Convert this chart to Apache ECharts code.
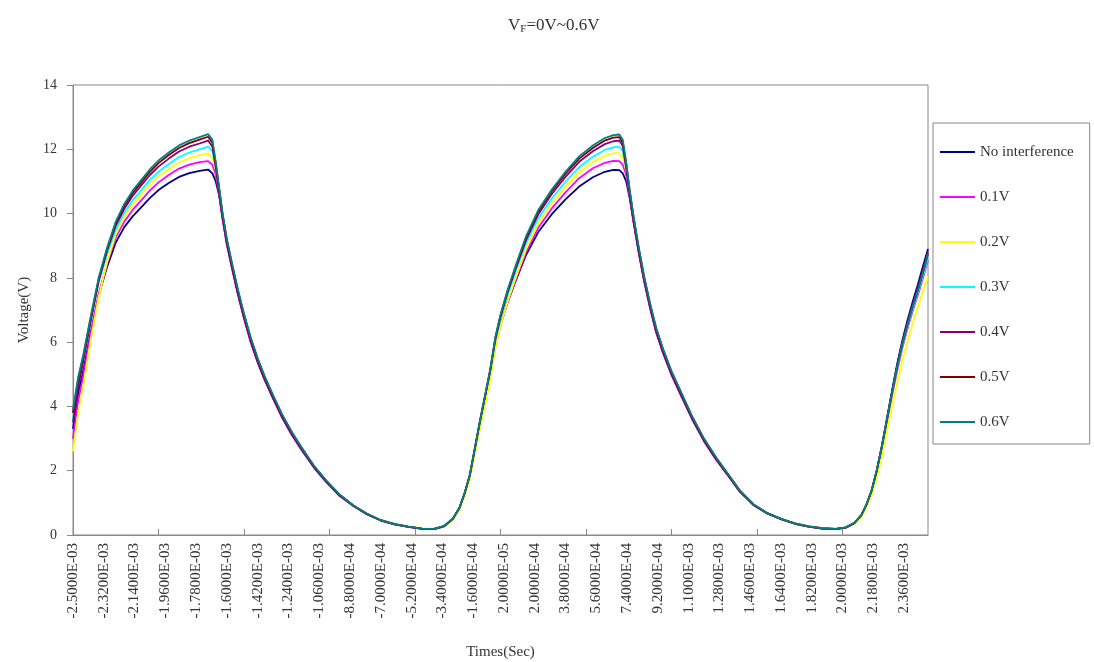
<!DOCTYPE html>
<html><head><meta charset="utf-8">
<script src="https://cdn.jsdelivr.net/npm/echarts@6/dist/echarts.min.js"></script>
<style>html,body{margin:0;padding:0;background:#fff}#c{width:1094px;height:662px}</style>
</head><body><div id="c"></div>
<script>
// time in microseconds measured from -2.5000E-03 s
const timeUs = [0,30,60,100,150,200,250,300,350,400,450,500,560,620,680,740,790,815,835,855,875,900,930,965,1000,1040,1080,1120,1170,1220,1280,1340,1410,1480,1560,1640,1720,1800,1880,1960,2040,2110,2170,2220,2260,2290,2320,2350,2380,2410,2440,2470,2500,2540,2590,2650,2720,2800,2880,2960,3040,3110,3160,3195,3215,3235,3255,3280,3310,3340,3375,3410,3450,3500,3560,3620,3690,3760,3830,3900,3980,4060,4140,4220,4300,4380,4460,4520,4570,4610,4640,4670,4700,4730,4760,4790,4820,4850,4880,4910,4940,4970,5000];
const seriesNames = ['No interference','0.1V','0.2V','0.3V','0.4V','0.5V','0.6V'];
const seriesColors = ['#000080','#FF00FF','#FFFF00','#00FFFF','#800080','#800000','#008080'];
const yTicks = {min:0, max:14, step:2};

const noInterference = [3.3,4.4,5.1,6.2,7.45,8.35,9.1,9.58,9.92,10.2,10.49,10.73,10.95,11.14,11.26,11.33,11.37,11.25,11.0,10.55,9.85,9.08,8.34,7.52,6.79,6.05,5.42,4.88,4.29,3.73,3.16,2.66,2.12,1.68,1.24,0.91,0.65,0.46,0.34,0.26,0.2,0.18,0.27,0.49,0.84,1.28,1.82,2.65,3.47,4.24,5.0,5.92,6.55,7.22,7.92,8.72,9.42,9.98,10.44,10.84,11.13,11.3,11.36,11.35,11.25,11.0,10.5,9.7,8.78,7.95,7.1,6.37,5.73,5.03,4.34,3.65,2.96,2.39,1.88,1.37,0.94,0.68,0.5,0.36,0.27,0.21,0.18,0.23,0.37,0.61,0.94,1.37,1.99,2.76,3.62,4.5,5.33,6.05,6.68,7.25,7.78,8.35,8.9];
const v01 = [3.0,4.15,4.95,6.15,7.5,8.45,9.25,9.75,10.12,10.42,10.72,10.97,11.2,11.4,11.52,11.6,11.63,11.52,11.2,10.6,9.82,9.03,8.3,7.48,6.74,6.0,5.38,4.84,4.25,3.69,3.12,2.63,2.1,1.66,1.22,0.9,0.64,0.45,0.33,0.25,0.19,0.18,0.27,0.49,0.83,1.27,1.8,2.62,3.43,4.18,4.93,5.86,6.52,7.22,7.96,8.8,9.55,10.16,10.66,11.1,11.41,11.58,11.64,11.63,11.52,11.2,10.55,9.67,8.73,7.9,7.06,6.32,5.68,4.99,4.3,3.62,2.93,2.36,1.86,1.35,0.93,0.67,0.49,0.35,0.26,0.2,0.18,0.23,0.37,0.6,0.92,1.34,1.94,2.68,3.51,4.34,5.12,5.82,6.42,6.96,7.45,7.98,8.55];
const v02 = [2.6,3.8,4.65,5.95,7.4,8.5,9.35,9.9,10.3,10.6,10.9,11.15,11.38,11.58,11.72,11.82,11.87,11.74,11.35,10.72,9.95,9.16,8.41,7.58,6.84,6.1,5.47,4.92,4.32,3.76,3.18,2.68,2.14,1.69,1.24,0.92,0.65,0.47,0.35,0.27,0.21,0.2,0.26,0.46,0.78,1.2,1.72,2.52,3.32,4.06,4.83,5.8,6.5,7.24,8.02,8.9,9.68,10.31,10.83,11.28,11.6,11.8,11.88,11.88,11.75,11.35,10.67,9.8,8.86,8.01,7.16,6.42,5.77,5.07,4.37,3.68,2.98,2.41,1.89,1.38,0.95,0.68,0.51,0.37,0.28,0.22,0.2,0.23,0.35,0.56,0.85,1.23,1.78,2.45,3.22,4.0,4.75,5.43,6.03,6.58,7.08,7.6,8.05];
const v03 = [3.6,4.7,5.45,6.55,7.85,8.75,9.5,10.02,10.42,10.73,11.05,11.3,11.54,11.76,11.9,12.0,12.08,11.95,11.45,10.75,9.96,9.15,8.4,7.57,6.83,6.08,5.46,4.91,4.31,3.75,3.17,2.67,2.13,1.68,1.24,0.91,0.65,0.46,0.34,0.26,0.2,0.19,0.28,0.5,0.85,1.3,1.84,2.68,3.52,4.3,5.08,6.05,6.72,7.44,8.22,9.08,9.85,10.47,10.99,11.44,11.77,11.98,12.06,12.08,11.95,11.45,10.7,9.8,8.85,8.0,7.15,6.41,5.76,5.06,4.36,3.67,2.97,2.4,1.88,1.37,0.94,0.68,0.5,0.36,0.27,0.21,0.19,0.24,0.38,0.62,0.94,1.37,1.98,2.73,3.57,4.41,5.2,5.89,6.49,7.03,7.52,8.05,8.62];
const v04 = [3.5,4.6,5.4,6.55,7.9,8.85,9.62,10.15,10.56,10.88,11.2,11.46,11.71,11.93,12.08,12.18,12.27,12.08,11.42,10.62,9.84,9.04,8.3,7.47,6.74,5.99,5.37,4.83,4.24,3.68,3.11,2.62,2.09,1.65,1.21,0.9,0.64,0.45,0.33,0.25,0.19,0.18,0.27,0.49,0.84,1.29,1.84,2.68,3.53,4.32,5.11,6.1,6.78,7.52,8.3,9.18,9.97,10.61,11.14,11.61,11.94,12.16,12.25,12.27,12.1,11.42,10.57,9.68,8.74,7.9,7.05,6.31,5.67,4.98,4.29,3.61,2.92,2.35,1.85,1.34,0.93,0.67,0.49,0.35,0.26,0.2,0.18,0.23,0.37,0.61,0.94,1.37,1.99,2.75,3.6,4.46,5.27,5.98,6.6,7.16,7.68,8.24,8.82];
const v05 = [3.8,4.85,5.55,6.65,7.95,8.9,9.7,10.24,10.65,10.97,11.3,11.57,11.82,12.04,12.19,12.3,12.39,12.2,11.55,10.76,9.97,9.17,8.42,7.6,6.86,6.11,5.48,4.93,4.33,3.77,3.19,2.69,2.14,1.69,1.25,0.92,0.66,0.46,0.34,0.26,0.2,0.19,0.28,0.5,0.85,1.3,1.85,2.7,3.55,4.34,5.14,6.14,6.83,7.57,8.36,9.26,10.05,10.7,11.24,11.71,12.04,12.27,12.36,12.38,12.2,11.55,10.72,9.82,8.87,8.02,7.17,6.43,5.78,5.08,4.38,3.69,2.99,2.41,1.9,1.38,0.95,0.68,0.5,0.36,0.27,0.21,0.19,0.24,0.38,0.62,0.95,1.38,2.0,2.75,3.6,4.45,5.25,5.95,6.55,7.1,7.6,8.15,8.75];
const v06 = [3.9,4.9,5.6,6.7,8.0,8.95,9.75,10.3,10.72,11.05,11.38,11.65,11.9,12.12,12.27,12.38,12.47,12.3,11.6,10.8,10.0,9.2,8.45,7.62,6.88,6.13,5.5,4.95,4.35,3.78,3.2,2.7,2.15,1.7,1.25,0.92,0.65,0.46,0.34,0.26,0.2,0.19,0.28,0.5,0.85,1.3,1.85,2.7,3.55,4.35,5.15,6.15,6.85,7.6,8.4,9.3,10.1,10.75,11.3,11.78,12.12,12.35,12.44,12.46,12.3,11.6,10.75,9.85,8.9,8.05,7.2,6.45,5.8,5.1,4.4,3.7,3.0,2.42,1.9,1.38,0.95,0.68,0.5,0.36,0.27,0.21,0.19,0.24,0.38,0.62,0.95,1.38,2.0,2.75,3.6,4.45,5.25,5.95,6.55,7.1,7.6,8.15,8.75];
const seriesValues = [noInterference, v01, v02, v03, v04, v05, v06];
const xLabelStepUs = 180;   // label every 1.8E-04 s
const xTickStepUs = 500;
const xMaxUs = 5000;

const FONT = '"Liberation Serif","Times New Roman",serif';
function fmtSci(v){
  const t = (v - 2500) * 1e-6;
  let s = t.toExponential(4);
  return s.replace(/e([+-])(\d+)/, (m, sg, d) => 'E' + sg + (d.length < 2 ? '0' + d : d));
}
const tickVals = [];
for (let v = xTickStepUs; v < xMaxUs; v += xTickStepUs) tickVals.push(v);

const chart = echarts.init(document.getElementById('c'), null, {renderer:'canvas'});
chart.setOption({
  animation:false,
  backgroundColor:'#fff',
  title:{
    text:'V{s|F}=0V~0.6V', left:503, top:12,
    textStyle:{fontFamily:FONT, fontSize:17, fontWeight:'normal', color:'#333',
      rich:{s:{fontFamily:FONT, fontSize:11, color:'#333', verticalAlign:'bottom', padding:[7,0,0,0]}}}
  },
  legend:{
    orient:'vertical', left:933, top:123,
    padding:[21,16,14,6], itemGap:29, itemWidth:35, itemHeight:14,
    borderColor:'#888', borderWidth:1, backgroundColor:'#fff',
    itemStyle:{opacity:0},
    textStyle:{fontFamily:FONT, fontSize:15, color:'#333', lineHeight:16},
    data:seriesNames
  },
  grid:{left:73, right:166, top:85, bottom:127, show:true, borderColor:'#888', borderWidth:1, outerBoundsMode:'none'},
  xAxis:{
    type:'value', min:0, max:xMaxUs, interval:xLabelStepUs,
    name:'Times(Sec)', nameLocation:'middle', nameGap:110,
    nameTextStyle:{fontFamily:FONT, fontSize:15, color:'#333'},
    axisLine:{show:true, lineStyle:{color:'#888'}},
    axisTick:{show:true, inside:true, length:6, customValues:tickVals, lineStyle:{color:'#888'}},
    axisLabel:{rotate:90, margin:8, fontFamily:FONT, fontSize:15, color:'#333', formatter:fmtSci, showMaxLabel:false},
    splitLine:{show:false}
  },
  yAxis:{
    type:'value', min:yTicks.min, max:yTicks.max, interval:yTicks.step,
    name:'Voltage(V)', nameLocation:'middle', nameGap:41,
    nameTextStyle:{fontFamily:FONT, fontSize:15, color:'#333'},
    axisLine:{show:true, lineStyle:{color:'#888'}},
    axisTick:{show:true, length:6, lineStyle:{color:'#888'}},
    axisLabel:{margin:16, fontFamily:FONT, fontSize:14, color:'#333'},
    splitLine:{show:false}
  },
  series: seriesNames.map((n, k) => ({
    name:n, type:'line', symbol:'none', showSymbol:false,
    data: timeUs.map((t, i) => [t, seriesValues[k][i]]),
    lineStyle:{width:1.8, color:seriesColors[k]},
    itemStyle:{color:seriesColors[k]}
  }))
});
</script></body></html>
